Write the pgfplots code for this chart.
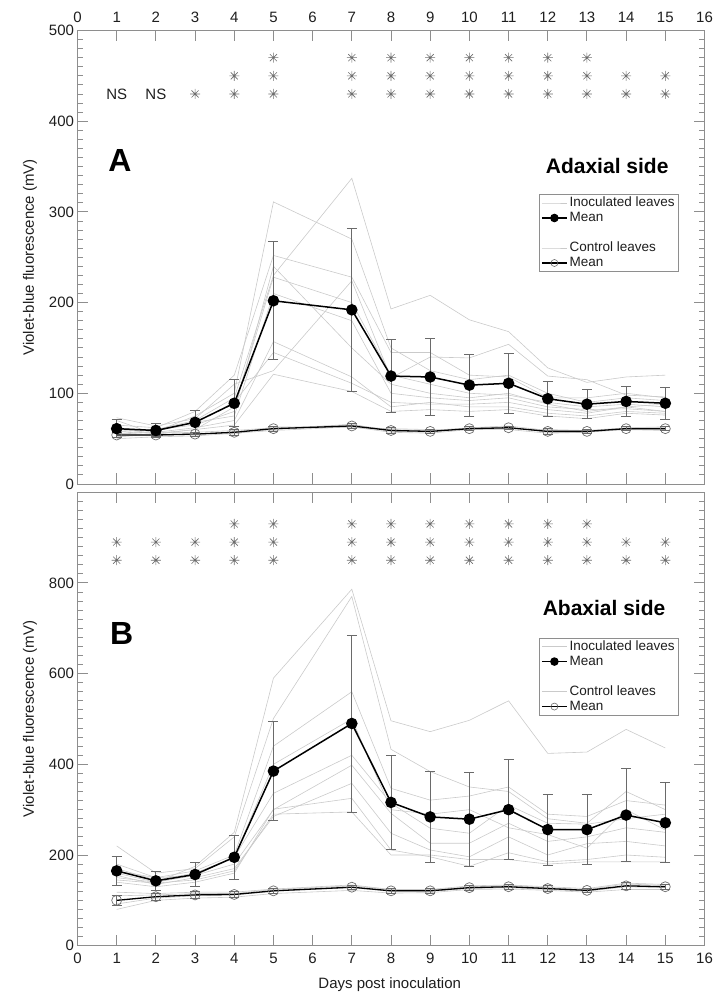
\documentclass[border=0pt]{standalone}
\usepackage{fontspec}
\setmainfont{Liberation Sans}
\usepackage{pgfplots}
\usepackage{pgfplotstable}
\pgfplotsset{compat=1.18}

\definecolor{frame}{HTML}{8E8E8E}
\definecolor{leaf}{HTML}{CACACA}
\definecolor{errc}{HTML}{6A6A6A}
\definecolor{ocirc}{HTML}{6E6E6E}
\definecolor{txt}{HTML}{1E1E1E}
\definecolor{starc}{HTML}{6E6E6E}

% eight-armed significance mark
\pgfdeclareplotmark{star8}{%
  \pgfpathmoveto{\pgfqpoint{0pt}{-\pgfplotmarksize}}\pgfpathlineto{\pgfqpoint{0pt}{\pgfplotmarksize}}%
  \pgfpathmoveto{\pgfqpoint{-\pgfplotmarksize}{0pt}}\pgfpathlineto{\pgfqpoint{\pgfplotmarksize}{0pt}}%
  \pgfpathmoveto{\pgfqpoint{-0.7071\pgfplotmarksize}{-0.7071\pgfplotmarksize}}%
  \pgfpathlineto{\pgfqpoint{0.7071\pgfplotmarksize}{0.7071\pgfplotmarksize}}%
  \pgfpathmoveto{\pgfqpoint{-0.7071\pgfplotmarksize}{0.7071\pgfplotmarksize}}%
  \pgfpathlineto{\pgfqpoint{0.7071\pgfplotmarksize}{-0.7071\pgfplotmarksize}}%
  \pgfusepathqstroke}

% ---------- Adaxial side ----------
% individual inoculated leaves
\pgfplotstableread{
day L1  L2  L3  L4  L5  L6  L7  L8  L9  L10
1   55  60  65  58  70  62  55  60  52  73
2   60  58  62  60  55  58  57  60  56  64
3   70  75  80  65  60  68  62  68  60  72
4   95  100 120 80  85  75  70  90  65  110
5   230 311 252 240 228 210 157 145 121 125
7   337 270 228 150 200 180 118 111 102 224
8   193 150 145 110 120 100 85  90  80  117
9   208 125 145 100 110 95  90  88  82  140
10  181 115 120 95  100 92  85  88  80  139
11  168 120 118 100 98  95  85  90  82  154
12  128 100 95  88  90  85  78  82  75  119
13  112 90  95  80  85  82  75  78  72  115
14  118 95  100 85  88  83  80  85  78  98
15  120 92  95  88  85  80  78  80  76  96
}\adaxInoc
% individual control leaves
\pgfplotstableread{
day C1 C2 C3 C4 C5
1   52 56 54 50 58
2   55 53 54 52 56
3   54 56 55 53 57
4   58 55 57 56 59
5   60 63 61 59 62
7   66 62 64 63 65
8   58 61 59 57 60
9   57 60 58 56 59
10  62 60 61 60 62
11  63 61 62 60 64
12  57 60 58 56 59
13  57 59 58 57 59
14  62 60 61 60 62
15  62 60 61 59 63
}\adaxCtrl
% means and standard deviations
\pgfplotstableread{
day mean err cmean cerr
1   61   10  54    3
2   59   8   54    2
3   68   13  55    2
4   89   26  57    3
5   202  65  61    3
7   192  90  64    3
8   119  40  59    3
9   118  42  58    2
10  109  34  61    2
11  111  33  62    2
12  94   19  58    3
13  88   16  58    2
14  91   17  61    2
15  89   18  61    2
}\adaxMean

% ---------- Abaxial side ----------
\pgfplotstableread{
day M1  M2  M3  M4  M5  M6  M7  M8  M9
1   150 220 180 170 160 155 140 145 165
2   140 160 150 145 140 135 130 138 150
3   175 170 165 160 155 150 140 145 155
4   250 240 200 195 180 170 160 165 195
5   590 501 440 336 300 285 301 290 400
7   786 770 560 420 398 358 325 295 500
8   496 433 347 314 292 248 211 200 300
9   472 384 321 259 226 211 196 200 290
10  497 350 330 248 226 196 175 190 300
11  540 340 350 310 270 240 205 190 260
12  424 280 290 270 230 200 185 180 245
13  427 270 285 268 240 225 190 185 215
14  477 340 320 280 260 230 200 185 300
15  436 300 310 290 250 220 195 185 255
}\abaxInoc
\pgfplotstableread{
day D1  D2  D3  D4  D5
1   92  110 100 118 80
2   105 112 108 115 100
3   110 115 112 118 105
4   112 115 113 118 107
5   120 124 121 125 115
7   128 132 129 134 122
8   120 124 121 124 116
9   120 123 121 124 117
10  126 130 128 132 124
11  128 133 130 134 125
12  124 128 126 130 122
13  120 124 122 126 118
14  130 136 132 138 124
15  128 133 130 135 124
}\abaxCtrl
\pgfplotstableread{
day mean err cmean cerr
1   165  33  100   12
2   143  20  108   8
3   157  26  112   7
4   195  48  113   6
5   385  109 121   5
7   490  195 129   5
8   316  103 121   5
9   284  101 121   5
10  279  104 128   6
11  300  110 130   6
12  256  78  126   6
13  256  77  122   5
14  288  102 132   7
15  271  88  130   6
}\abaxMean

\pgfplotsset{
  panel/.style={
    scale only axis, width=627pt, height=453.5pt,
    xmin=0, xmax=16, ymin=0,
    xtick={0,...,16},
    axis line style={frame, line width=0.9pt},
    tick style={frame, line width=0.9pt},
    tick align=inside,
    major tick length=11pt, minor tick length=6pt,
    minor y tick num=9,
    ticklabel style={font=\fontsize{15}{17}\selectfont, text=txt},
    /pgf/number format/assume math mode=true,
    label style={font=\fontsize{15}{17}\selectfont, text=txt},
    ylabel={Violet-blue fluorescence (mV)},
    ylabel style={at={(axis description cs:-0.0758,0.5)}, anchor=center},
    legend cell align=left,
    legend image code/.code={
      \draw[mark repeat=2,mark phase=2,##1] plot coordinates {(0pt,0pt) (12.5pt,0pt) (25pt,0pt)};
    },
    legend style={
      draw=frame, line width=0.6pt, fill=white,
      font=\fontsize{13.5}{15}\selectfont, text=txt,
      inner xsep=2pt, inner ysep=1pt, row sep=0pt,
      nodes={inner ysep=1pt, inner xsep=2pt, text height=10pt, text depth=3pt},
    },
  },
  leafline/.style={leaf, line width=0.6pt, forget plot},
  inocmean/.style={black, line width=1.5pt, mark=*, mark size=5pt,
    mark options={solid, fill=black}},
  ctrlmean/.style={black, line width=1.3pt, mark=o, mark size=5pt,
    mark options={ocirc, line width=0.7pt, fill=none}},
  errstyle/.style={error bars/.cd, y dir=both, y explicit,
    error bar style={errc, line width=0.8pt},
    error mark options={errc, rotate=90, mark size=5pt, line width=0.8pt},
    /pgfplots/.cd},
  stars/.style={only marks, mark=star8, mark size=5pt, color=starc, line width=0.6pt, forget plot},
}

\begin{document}
\begin{tikzpicture}
\path[use as bounding box] (-77.5pt,-57.3pt) rectangle (644.5pt,945.7pt);

% ===== Panel A: adaxial side =====
\begin{axis}[panel, at={(0pt,461.7pt)}, anchor=south west,
  ymax=500, ytick={0,100,...,500},
  xticklabel pos=upper,
  xticklabel style={yshift=4pt},
  legend style={at={(axis cs:15.35,319.5)}, anchor=north east},
]
\pgfplotsinvokeforeach{L1,L2,L3,L4,L5,L6,L7,L8,L9,L10}{
  \addplot[leafline] table[x=day, y=#1] {\adaxInoc};
}
\pgfplotsinvokeforeach{C1,C2,C3,C4,C5}{
  \addplot[leafline] table[x=day, y=#1] {\adaxCtrl};
}
\addplot[forget plot, ctrlmean, errstyle] table[x=day, y=cmean, y error=cerr] {\adaxMean};
\addplot[forget plot, inocmean, errstyle] table[x=day, y=mean, y error=err] {\adaxMean};

% significance marks
\addplot[stars] coordinates {
  (3,430) (4,430) (4,450) (5,430) (5,450) (5,470)
  (7,430) (7,450) (7,470) (8,430) (8,450) (8,470)
  (9,430) (9,450) (9,470) (10,430) (10,450) (10,470)
  (11,430) (11,450) (11,470) (12,430) (12,450) (12,470)
  (13,430) (13,450) (13,470) (14,430) (14,450) (15,430) (15,450)};
\node[font=\fontsize{15}{17}\selectfont, text=txt] at (axis cs:1,430) {NS};
\node[font=\fontsize{15}{17}\selectfont, text=txt] at (axis cs:2,430) {NS};

\node[font=\fontsize{32}{34}\selectfont\bfseries, text=black] at (axis cs:1.08,357) {A};
\node[font=\fontsize{21}{23}\selectfont\bfseries, text=black, anchor=east] at (axis cs:15.17,350.6) {Adaxial side};

\addlegendimage{leaf, line width=0.6pt}
\addlegendentry{Inoculated leaves}
\addlegendimage{black, line width=1.5pt, mark=*, mark size=3.5pt}
\addlegendentry{Mean}
\addlegendimage{empty legend}
\addlegendentry{}
\addlegendimage{leaf, line width=0.6pt}
\addlegendentry{Control leaves}
\addlegendimage{black, line width=1.2pt, mark=o, mark size=3.5pt, mark options={ocirc, line width=0.6pt}}
\addlegendentry{Mean}
\end{axis}

% ===== Panel B: abaxial side =====
\begin{axis}[panel, at={(0pt,0pt)}, anchor=south west,
  ymax=1000, ytick={0,200,...,1000},
  yticklabels={0,200,400,600,800,{}},
  xticklabel style={yshift=-4pt},
  xlabel={Days post inoculation},
  xlabel style={at={(axis description cs:0.498,-0.0867)}, anchor=center},
  legend style={at={(axis cs:15.35,679)}, anchor=north east},
]
\pgfplotsinvokeforeach{M1,M2,M3,M4,M5,M6,M7,M8,M9}{
  \addplot[leafline] table[x=day, y=#1] {\abaxInoc};
}
\pgfplotsinvokeforeach{D1,D2,D3,D4,D5}{
  \addplot[leafline] table[x=day, y=#1] {\abaxCtrl};
}
\addplot[forget plot, ctrlmean, errstyle] table[x=day, y=cmean, y error=cerr] {\abaxMean};
\addplot[forget plot, inocmean, errstyle] table[x=day, y=mean, y error=err] {\abaxMean};

\addplot[stars] coordinates {
  (1,850) (1,890) (2,850) (2,890) (3,850) (3,890)
  (4,850) (4,890) (4,930) (5,850) (5,890) (5,930)
  (7,850) (7,890) (7,930) (8,850) (8,890) (8,930)
  (9,850) (9,890) (9,930) (10,850) (10,890) (10,930)
  (11,850) (11,890) (11,930) (12,850) (12,890) (12,930)
  (13,850) (13,890) (13,930) (14,850) (14,890) (15,850) (15,890)};

\node[font=\fontsize{32}{34}\selectfont\bfseries, text=black] at (axis cs:1.13,689.5) {B};
\node[font=\fontsize{21}{23}\selectfont\bfseries, text=black, anchor=east] at (axis cs:15.09,745) {Abaxial side};

\addlegendimage{leaf, line width=0.6pt}
\addlegendentry{Inoculated leaves}
\addlegendimage{black, line width=1.5pt, mark=*, mark size=3.5pt}
\addlegendentry{Mean}
\addlegendimage{empty legend}
\addlegendentry{}
\addlegendimage{leaf, line width=0.6pt}
\addlegendentry{Control leaves}
\addlegendimage{black, line width=1.2pt, mark=o, mark size=3.5pt, mark options={ocirc, line width=0.6pt}}
\addlegendentry{Mean}
\end{axis}
\end{tikzpicture}
\end{document}
